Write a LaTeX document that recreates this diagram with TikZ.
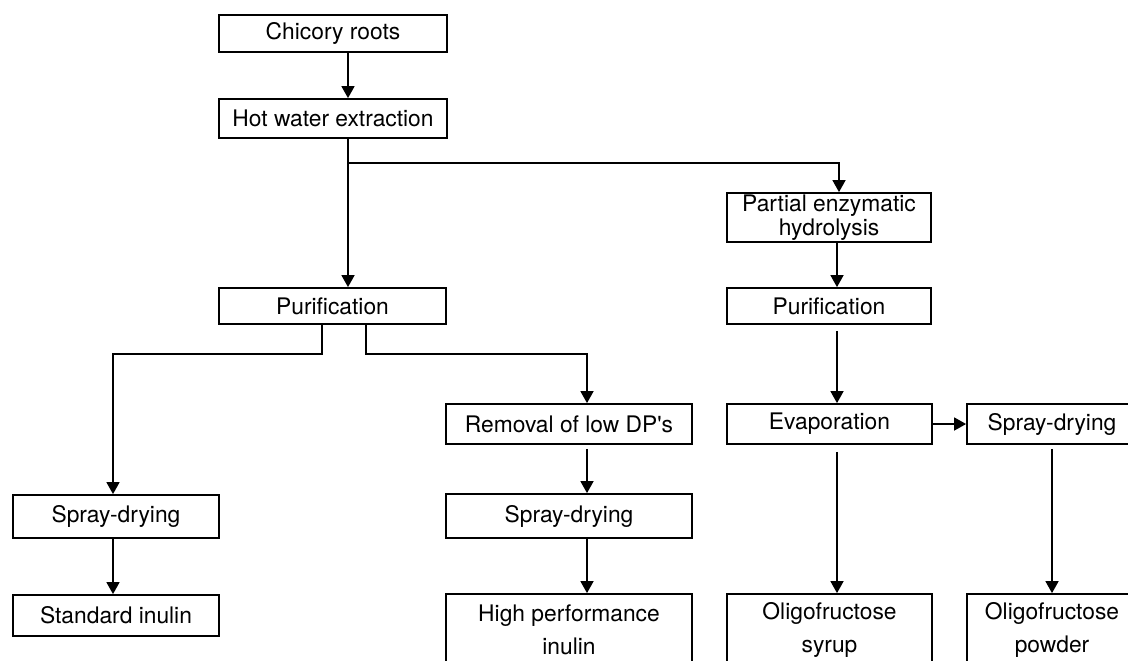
\documentclass[tikz,border=0pt]{standalone}
\usepackage{fontspec}
\setmainfont{TeX Gyre Heros}
\usetikzlibrary{arrows.meta}
\tikzset{
  stage/.style={draw, line width=0.9pt, inner sep=0pt, minimum height=20pt, align=center, font=\fontsize{11.4}{12}\selectfont},
  endstage/.style={stage, minimum height=35.5pt, font=\fontsize{11.4}{16.5}\selectfont},
  flow/.style={line width=0.8pt, -{Triangle[length=6pt,width=6.5pt]}},
}
\begin{document}
\begin{tikzpicture}[x=0.5pt, y=-0.5pt]
        \useasboundingbox (0,0) rectangle (1128,660);
        \clip (0,0) rectangle (1128,660);
        % main line
        \node[stage, minimum width=114pt, minimum height=18.5pt] (chicory) at (333,33.5) {Chicory roots};
        \node[stage, minimum width=114pt, minimum height=19.5pt] (hwe) at (333,118.5) {Hot water extraction};
        \node[stage, minimum width=113.5pt, minimum height=18pt] (purif1) at (332.5,306) {Purification};
        % inulin branch
        \node[stage, minimum width=103pt, minimum height=21.5pt] (spray1) at (116,516.5) {Spray-drying};
        \node[stage, minimum width=103pt, minimum height=20.5pt] (standard) at (116,615.5) {Standard inulin};
        \node[stage, minimum width=123pt] (removal) at (569,424) {Removal of low DP\textquotesingle s};
        \node[stage, minimum width=123pt, minimum height=22pt] (spray2) at (569,516) {Spray-drying};
        \node[endstage, minimum width=123pt] (highperf) at (569,629.5) {High performance\\inulin};
        % oligofructose branch
        \node[stage, minimum width=102pt, minimum height=24.5pt] (partial) at (829,217.5) {Partial enzymatic\\hydrolysis};
        \node[stage, minimum width=102pt, minimum height=18pt] (purif2) at (829,306) {Purification};
        \node[stage, minimum width=102.5pt] (evap) at (829.5,424) {Evaporation};
        \node[stage, minimum width=85pt] (spray3) at (1052,424) {Spray-drying};
        \node[endstage, minimum width=102.5pt] (syrup) at (829.5,629.5) {Oligofructose\\syrup};
        \node[endstage, minimum width=85pt] (powder) at (1052,629.5) {Oligofructose\\powder};
        % connectors
        \coordinate (fork) at (348,163);
        \coordinate (hydro) at (839,163);
        \coordinate (rcol) at (837,0);
        \coordinate (splitL) at (322,354);
        \coordinate (splitR) at (366,354);
        \coordinate (lcol) at (113,0);
        \coordinate (mcol) at (587,0);
        \draw[flow] (chicory.south -| fork) -- (hwe.north -| fork);
        \draw[flow] (hwe.south -| fork) -- (purif1.north -| fork);
        \draw[flow] (fork) -| (partial.north -| hydro);
        \draw[flow] (partial.south -| rcol) -- (purif2.north -| rcol);
        \draw[flow, shorten <=3pt] (purif2.south -| rcol) -- (evap.north -| rcol);
        \draw[flow] (purif1.south -| splitL) -- (splitL) -| (spray1.north -| lcol);
        \draw[flow] (purif1.south -| splitR) -- (splitR) -| (removal.north -| mcol);
        \draw[flow] (spray1.south -| lcol) -- (standard.north -| lcol);
        \draw[flow, shorten <=2pt] (removal.south -| mcol) -- (spray2.north -| mcol);
        \draw[flow] (spray2.south -| mcol) -- (highperf.north -| mcol);
        \draw[flow] (evap.east) -- (spray3.west);
        \draw[flow, shorten <=3.5pt] (evap.south -| rcol) -- (syrup.north -| rcol);
        \draw[flow, shorten <=2pt] (spray3.south) -- (powder.north);
      \end{tikzpicture}
\end{document}
